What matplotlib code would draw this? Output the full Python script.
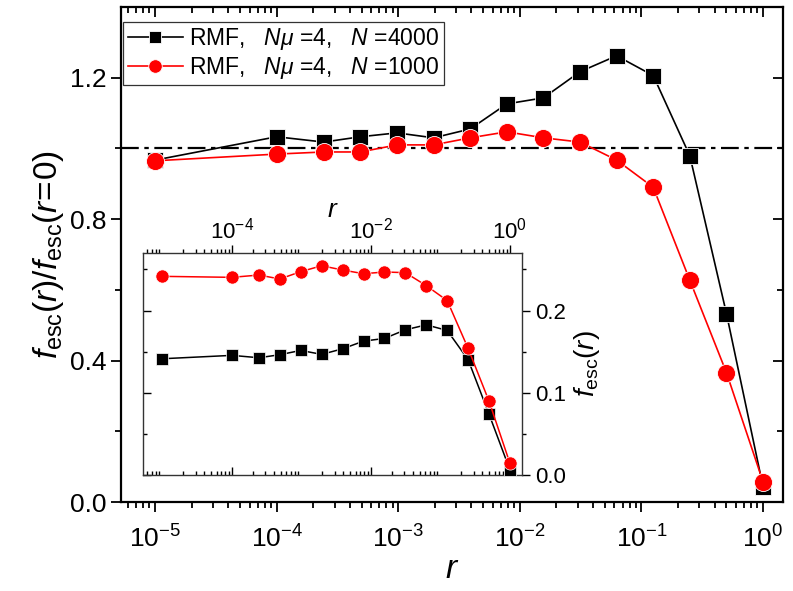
import numpy as np
import matplotlib
matplotlib.use('Agg')
import matplotlib.pyplot as plt

plt.rcParams['font.family'] = ['Liberation Sans', 'DejaVu Sans']
plt.rcParams['mathtext.fontset'] = 'custom'
plt.rcParams['mathtext.rm'] = 'Liberation Sans'
plt.rcParams['mathtext.it'] = 'Liberation Sans:italic'

# r values: 1e-5, 1e-4 and then 2^-12 ... 2^0
r = np.array([1e-5, 1e-4] + [2.0 ** (-k) for k in range(12, -1, -1)])

# main panel: f_esc(r) / f_esc(r=0)
ratio_4000 = [0.967, 1.033, 1.018, 1.033, 1.044, 1.030, 1.055,
              1.126, 1.143, 1.217, 1.262, 1.206, 0.979, 0.533, 0.043]
ratio_1000 = [0.965, 0.984, 0.990, 0.990, 1.010, 1.010, 1.030,
              1.047, 1.030, 1.018, 0.967, 0.890, 0.627, 0.366, 0.057]

# inset: f_esc(r)
fesc_4000 = [0.1414, 0.1455, 0.1426, 0.1463, 0.1515, 0.1467, 0.1535,
             0.1628, 0.1661, 0.1766, 0.1826, 0.1758, 0.1402, 0.0739, 0.006]
fesc_1000 = [0.2416, 0.2404, 0.2432, 0.2384, 0.2473, 0.2545, 0.2493,
             0.2448, 0.2469, 0.2461, 0.2303, 0.2121, 0.1539, 0.0897, 0.0141]

lab_4000 = r'RMF,   $N\mu$ =4,   $N$ =4000'
lab_1000 = r'RMF,   $N\mu$ =4,   $N$ =1000'

W, H = 793, 591
fig = plt.figure(figsize=(W / 100, H / 100), dpi=100)

# main axes
ax = fig.add_axes([121 / W, 1 - 502 / H, 662 / W, 495 / H])
ax.plot(r, ratio_4000, '-', color='black', lw=1.2, marker='s', ms=11,
        mfc='black', mec='white', mew=0.6, label=lab_4000, zorder=3)
ax.plot(r, ratio_1000, '-', color='red', lw=1.2, marker='o', ms=13,
        mfc='red', mec='white', mew=0.6, label=lab_1000, zorder=4)
ax.axhline(1.0, color='black', lw=1.6, dashes=(8, 2.5, 2, 2.5), zorder=2)

ax.set_xscale('log')
ax.set_xlim(10 ** -5.28, 10 ** 0.164)
ax.set_ylim(0, 1.4)
ax.set_yticks([0.0, 0.4, 0.8, 1.2])
ax.set_yticks([0.2, 0.6, 1.0], minor=True)
ax.set_xticks([1e-5, 1e-4, 1e-3, 1e-2, 1e-1, 1e0])
ax.set_yticklabels(['0.0', '0.4', '0.8', '1.2'])
ax.set_xticklabels([r'$\mathregular{10^{-5}}$', r'$\mathregular{10^{-4}}$',
                    r'$\mathregular{10^{-3}}$', r'$\mathregular{10^{-2}}$',
                    r'$\mathregular{10^{-1}}$', r'$\mathregular{10^{0}}$'])
ax.tick_params(which='both', direction='out', top=True, right=True,
               labelsize=19, width=1.3)
ax.tick_params(which='major', length=7)
ax.tick_params(which='minor', length=4)
ax.tick_params(axis='x', which='major', pad=10)
# mirrored ticks point inward
for t in ax.xaxis.get_major_ticks() + ax.xaxis.get_minor_ticks():
    t.tick2line.set_marker(3)
for t in ax.yaxis.get_major_ticks() + ax.yaxis.get_minor_ticks():
    t.tick2line.set_marker(0)
for s in ax.spines.values():
    s.set_linewidth(1.6)

ax.set_xlabel(r'$r$', fontsize=24, labelpad=1)
ax.set_ylabel(r'$f_{\mathrm{esc}}(r)/f_{\mathrm{esc}}(r\!=\!0)$', fontsize=24,
              labelpad=3)

leg = ax.legend(loc='upper left', bbox_to_anchor=(0.003, 0.97),
                borderaxespad=0, fontsize=16.5, frameon=True, fancybox=False,
                handlelength=2.4, handletextpad=0.3, borderpad=0.2,
                labelspacing=0.1, markerscale=0.75)
leg.get_frame().set_edgecolor('black')
leg.get_frame().set_linewidth(0.9)

# inset
ins = fig.add_axes([143 / W, 1 - 475 / H, 379 / W, 222 / H])
ins.plot(r, fesc_4000, '-', color='black', lw=1.1, marker='s', ms=8,
         mfc='black', mec='white', mew=0.5, zorder=3)
ins.plot(r, fesc_1000, '-', color='red', lw=1.1, marker='o', ms=9.5,
         mfc='red', mec='white', mew=0.5, zorder=4)
ins.set_xscale('log')
ins.set_xlim(10 ** -5.28, 10 ** 0.173)
ins.set_ylim(0, 0.27)
ins.set_yticks([0.0, 0.1, 0.2])
ins.set_yticklabels(['0.0', '0.1', '0.2'])
ins.set_yticks([0.05, 0.15, 0.25], minor=True)
ins.set_xticks([1e-4, 1e-2, 1e0])
ins.set_xticklabels([r'$\mathregular{10^{-4}}$', r'$\mathregular{10^{-2}}$',
                     r'$\mathregular{10^{0}}$'])
ins.xaxis.set_minor_locator(matplotlib.ticker.LogLocator(base=10, subs=np.arange(2, 10), numticks=20))
ins.tick_params(which='both', direction='out', labelsize=16,
                top=True, bottom=True, labeltop=True, labelbottom=False,
                left=True, right=True, labelleft=False, labelright=True,
                width=1.0)
ins.tick_params(which='major', length=6)
ins.tick_params(which='minor', length=3)
ins.tick_params(axis='x', which='major', pad=1)
for t in ins.xaxis.get_major_ticks() + ins.xaxis.get_minor_ticks():
    t.tick1line.set_marker(2)
for t in ins.yaxis.get_major_ticks() + ins.yaxis.get_minor_ticks():
    t.tick1line.set_marker(1)
for s in ins.spines.values():
    s.set_linewidth(1.0)
    s.set_color('#333333')
ins.xaxis.set_label_position('top')
ins.yaxis.set_label_position('right')
ins.set_xlabel(r'$r$', fontsize=19, labelpad=0)
ins.set_ylabel(r'$f_{\mathrm{esc}}(r)$', fontsize=20, labelpad=4)

fig.savefig('out.png', dpi=100)
